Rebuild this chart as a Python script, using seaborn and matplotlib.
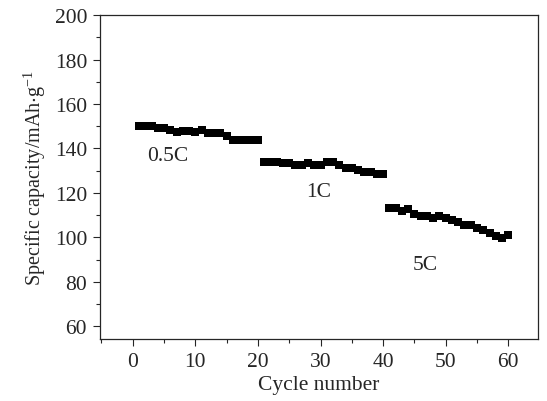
import numpy as np
import pandas as pd
import matplotlib
matplotlib.use('Agg')
import matplotlib.pyplot as plt
import seaborn as sns
from matplotlib.ticker import MultipleLocator

sns.set_style('ticks')
plt.rcParams['font.family'] = ['Liberation Serif', 'DejaVu Serif']
plt.rcParams['mathtext.fontset'] = 'stix'

cycles = list(range(1, 61))
capacity_05c = [149.9, 149.9, 149.9, 149.2, 149.2, 148.2, 147.2, 147.9, 147.9, 147.2,
                148.2, 146.9, 146.9, 146.9, 145.4, 143.9, 143.9, 143.9, 143.9, 143.9]
capacity_1c = [134.1, 134.1, 134.1, 133.5, 133.5, 132.7, 132.7, 133.5, 132.7, 132.7,
               133.7, 133.7, 132.7, 131.3, 131.3, 130.5, 129.6, 129.6, 128.6, 128.6]
capacity_5c = [113.2, 113.2, 111.7, 112.7, 110.3, 109.5, 109.5, 108.7, 109.5, 108.7,
               108.0, 106.8, 105.7, 105.7, 104.3, 103.3, 102.0, 100.8, 99.9, 101.0]
rate_labels = ['0.5C', '1C', '5C']

df = pd.DataFrame({
    'Cycle': cycles,
    'Capacity': capacity_05c + capacity_1c + capacity_5c,
})

fig = plt.figure(figsize=(5.47, 4.02), dpi=100)
ax = fig.add_axes([0.182, 0.154, 0.801, 0.806])
sns.scatterplot(data=df, x='Cycle', y='Capacity', marker='s', color='black',
                s=32, edgecolor='black', linewidth=0, ax=ax)

ax.set_xlim(-5.3, 64.7)
ax.set_ylim(54.2, 200)
ax.xaxis.set_major_locator(MultipleLocator(10))
ax.xaxis.set_minor_locator(MultipleLocator(5))
ax.yaxis.set_minor_locator(MultipleLocator(10))
ax.set_yticks([60, 80, 100, 120, 140, 160, 180, 200])
ax.set_xticks([0, 10, 20, 30, 40, 50, 60])
ax.tick_params(which='major', direction='out', length=5, width=0.8, labelsize=15.5, pad=4)
ax.tick_params(which='minor', direction='out', length=3, width=0.8)
for sp in ax.spines.values():
    sp.set_linewidth(0.9)

ax.set_xlabel('Cycle number', fontsize=15.5, labelpad=3)
ax.set_ylabel(r'Specific capacity/mAh$\cdot$g$^{\mathdefault{-1}}$', fontsize=14.5, labelpad=5)

ax.text(5.6, 136.7, rate_labels[0], fontsize=15.5, ha='center', va='center')
ax.text(29.7, 120.5, rate_labels[1], fontsize=15.5, ha='center', va='center')
ax.text(46.8, 87.6, rate_labels[2], fontsize=15.5, ha='center', va='center')

fig.savefig('out.png', dpi=100)
